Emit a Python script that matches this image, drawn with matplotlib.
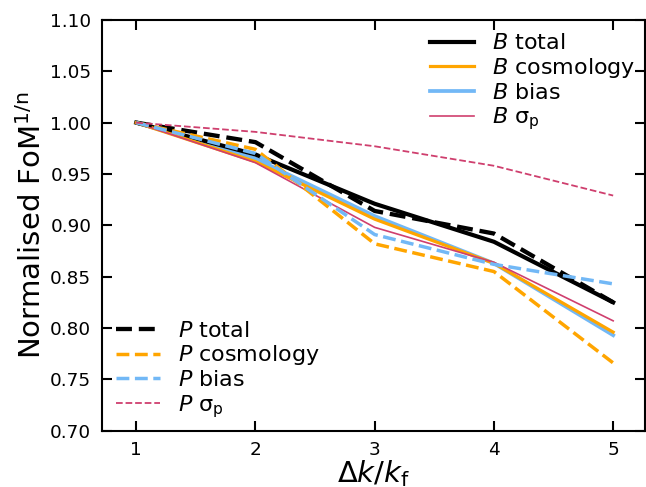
import matplotlib

matplotlib.use("Agg")
import matplotlib.pyplot as plt  # noqa: E402
import numpy as np  # noqa: E402

# bin width in units of the fundamental frequency
dk = [1, 2, 3, 4, 5]

# bispectrum (solid)
b_total = [1.000, 0.969, 0.921, 0.884, 0.825]
b_cosmo = [1.000, 0.962, 0.906, 0.863, 0.796]
b_bias = [1.000, 0.965, 0.909, 0.863, 0.793]
b_sigma = [1.000, 0.961, 0.898, 0.864, 0.807]

# power spectrum (dashed)
p_total = [1.000, 0.981, 0.914, 0.892, 0.825]
p_cosmo = [1.000, 0.974, 0.882, 0.855, 0.766]
p_bias = [1.000, 0.970, 0.891, 0.862, 0.843]
p_sigma = [1.000, 0.991, 0.977, 0.958, 0.929]

c_orange = "#FFA500"
c_blue = "#72B8F6"
c_pink = "#CF3F6E"

fig = plt.figure(figsize=(6.46, 4.87), dpi=100)
ax = fig.add_axes([0.1574, 0.1156, 0.8416, 0.8434])

b1, = ax.plot(dk, b_total, color="black", lw=3.0, label="$B$ total")
b2, = ax.plot(dk, b_cosmo, color=c_orange, lw=2.3, label="$B$ cosmology")
b3, = ax.plot(dk, b_bias, color=c_blue, lw=2.7, label="$B$ bias", zorder=1.9)
b4, = ax.plot(dk, b_sigma, color=c_pink, lw=1.2, label=r"$B$ $\mathrm{\sigma_p}$")

p1, = ax.plot(dk, p_total, color="black", lw=3.1, ls="--", label="$P$ total")
p2, = ax.plot(dk, p_cosmo, color=c_orange, lw=2.5, ls="--", label="$P$ cosmology")
p3, = ax.plot(dk, p_bias, color=c_blue, lw=2.5, ls="--", label="$P$ bias")
p4, = ax.plot(dk, p_sigma, color=c_pink, lw=1.3, ls="--",
              label=r"$P$ $\mathrm{\sigma_p}$")

leg1 = ax.legend(handles=[b1, b2, b3, b4], loc="upper right", frameon=False,
                 fontsize=16, handlelength=2.0, labelspacing=0.12,
                 borderaxespad=0.2, bbox_to_anchor=(1.006, 1.0))
ax.add_artist(leg1)
ax.legend(handles=[p1, p2, p3, p4], loc="lower left", frameon=False,
          fontsize=16, handlelength=2.0, labelspacing=0.12, borderaxespad=0.1,
          bbox_to_anchor=(0.005, 0.0))

ax.set_xlim(0.71, 5.27)
ax.set_ylim(0.70, 1.10)
ax.set_xticks(dk)
ax.set_yticks(np.arange(0.70, 1.101, 0.05))
ax.set_yticklabels([f"{v:.2f}" for v in np.arange(0.70, 1.101, 0.05)])
ax.tick_params(direction="in", top=True, right=True, length=7, width=1.5,
               labelsize=13.3, pad=7.5)
for s in ax.spines.values():
    s.set_linewidth(1.5)

ax.set_xlabel(r"$\Delta k/k_\mathrm{f}$", fontsize=21, labelpad=-1)
ax.set_ylabel(r"Normalised FoM$^{\mathrm{1/n}}$", fontsize=21, labelpad=2)

fig.savefig("out.png", dpi=100)
plt.close(fig)
